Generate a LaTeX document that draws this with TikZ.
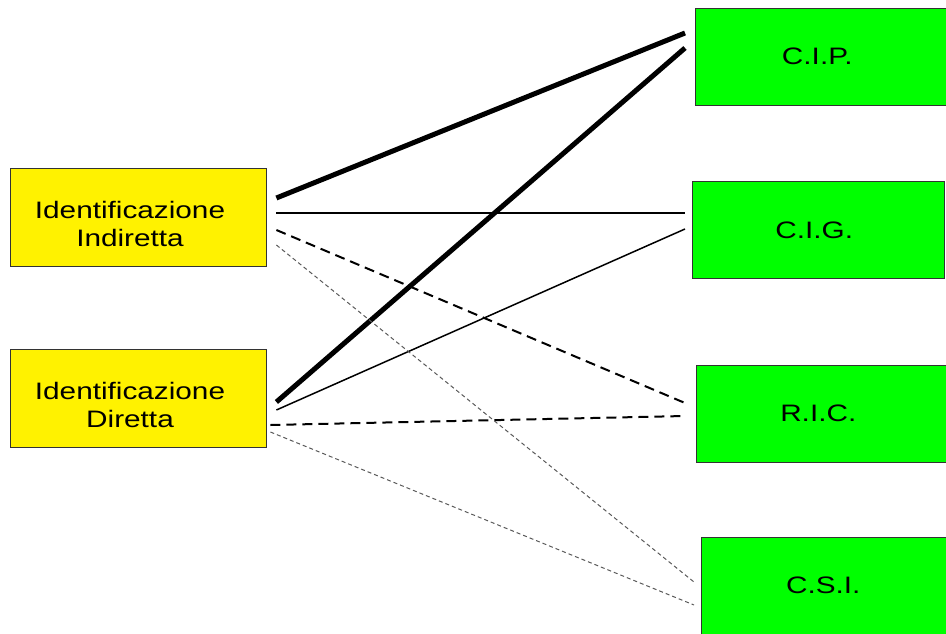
\documentclass[tikz,border=0pt]{standalone}
\usepackage{fontspec}
\newfontfamily\boxfont{Liberation Sans}[FakeStretch=1.25]

\begin{document}
\begin{tikzpicture}[x = 1pt, y = -1pt, every node/.style={draw = black!80, line width = 0.8pt, inner sep = 0pt, align = center, font = \boxfont\fontsize{23.8}{28}\selectfont}]

  \tikzset{
    yellowbox/.style={fill = yellow, minimum width = 256pt, minimum height = 98pt},
    greenbox/.style={fill = green, minimum width = 252pt, minimum height = 97pt, anchor = west},
    strong/.style={line width = 5pt},
    plain/.style={line width = 1.5pt},
    dashedlink/.style={line width = 2pt, dash pattern = on 10pt off 6pt},
    faintlink/.style={line width = 1pt, black!65, dash pattern = on 4pt off 3pt}
  }

  \useasboundingbox (0, 0) rectangle (946, 634);

  % identification methods
  \node[yellowbox] (ii) at (138, 217) { \rule{0pt}{32pt}Identificazione\hspace*{16pt} \\ Indiretta\hspace*{16pt} };
  \node[yellowbox] (dd) at (138, 398) { \rule{0pt}{32pt}Identificazione\hspace*{16pt} \\ Diretta\hspace*{16pt} };

  % targets
  \node[greenbox] (cip) at (695, 56.5) { C.I.P. };
  \node[greenbox] (cig) at (692, 230) { C.I.G. };
  \node[greenbox] (ric) at (696, 413.5) { R.I.C. };
  \node[greenbox] (csi) at (701, 585.5) { C.S.I. };

  % links
  \draw[strong] ([shift={(10, -19)}] ii.east) -- ([shift={(-10, -23.5)}] cip.west);
  \draw[strong] ([shift={(10, 4)}] dd.east) -- ([shift={(-10, -8.5)}] cip.west);

  \draw[plain] ([shift={(10, -4)}] ii.east) -- ([shift={(-7, -17)}] cig.west);
  \draw[plain] ([shift={(10, 12)}] dd.east) -- ([shift={(-7, -1)}] cig.west);

  \draw[dashedlink] ([shift={(10, 13)}] ii.east) -- ([shift={(-11, -10.5)}] ric.west);
  \draw[dashedlink] ([shift={(4, 27)}] dd.east) -- ([shift={(-11, 2.5)}] ric.west);

  \draw[faintlink] ([shift={(10, 28)}] ii.east) -- ([shift={(-7, -3.5)}] csi.west);
  \draw[faintlink] ([shift={(4, 34)}] dd.east) -- ([shift={(-7, 19.5)}] csi.west);

\end{tikzpicture}
\end{document}
